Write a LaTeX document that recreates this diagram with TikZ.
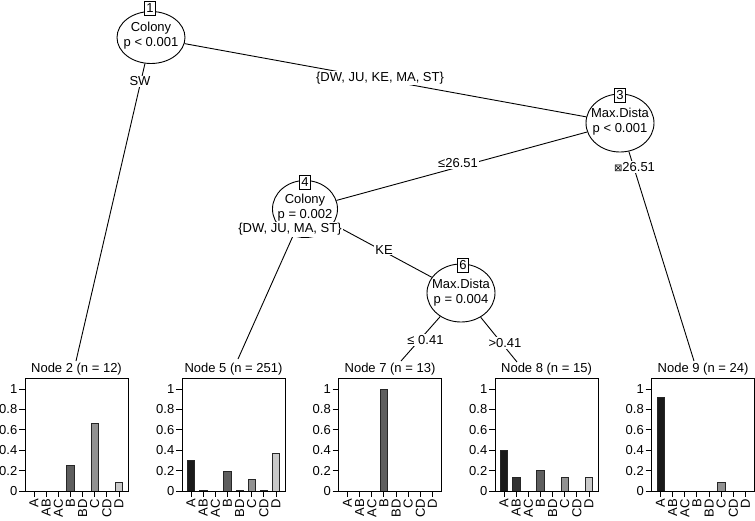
\documentclass[tikz,border=0pt]{standalone}
\usepackage{fontspec}
\setmainfont{Liberation Sans}
\newfontfamily\djv{DejaVu Sans}
\usetikzlibrary{shapes.geometric}
\definecolor{cA}{HTML}{1A1A1A}
\definecolor{cAB}{HTML}{333333}
\definecolor{cAC}{HTML}{4A4A4A}
\definecolor{cB}{HTML}{5E5E5E}
\definecolor{cBD}{HTML}{777777}
\definecolor{cC}{HTML}{929292}
\definecolor{cCD}{HTML}{ADADAD}
\definecolor{cD}{HTML}{CACACA}
\newcommand{\mypanel}[4]{%
\begin{scope}[shift={(#2,0)}]
 \node[ttl] (#1) at (51.5,369) {#3};
 \foreach \v [count=\k] in {0,0.2,0.4,0.6,0.8,1}{
   \draw[frame] (-6,{491-102*\v}) -- (0,{491-102*\v});
   \node[anchor=east, inner sep=0pt] (#1y\k) at (-7.5,{491-102*\v}) {\v};
 }
 \foreach \lab [count=\i from 0] in {A,AB,AC,B,BD,C,CD,D}{
   \draw[frame] ({9+12.14*\i},491) -- ({9+12.14*\i},497);
   \node[rotate=90, anchor=east, inner sep=0pt] (#1x\i) at ({9+12.14*\i},499) {\lab};
 }
 \foreach \i/\v/\c in {#4}{
   \filldraw[barst, fill=\c] ({9+12.14*\i-3.7},491) rectangle ({9+12.14*\i+3.7},{491-102*\v});
 }
 \draw[frame] (0,378) rectangle (103,491);
\end{scope}}
\begin{document}
\begin{tikzpicture}[x=1pt,y=-1pt,
  every node/.style={font=\fontsize{13}{15}\selectfont},
  innernode/.style={ellipse, draw, line width=0.9pt, fill=white, inner sep=0pt},
  innertext/.style={align=center, inner sep=0pt},
  numbox/.style={draw, fill=white, line width=0.8pt, inner sep=0pt, minimum width=11, minimum height=14},
  edgeline/.style={line width=0.9pt},
  lbl/.style={fill=white, inner sep=1pt},
  ttl/.style={inner sep=0pt},
  frame/.style={line width=0.9pt},
  barst/.style={draw=black!85, line width=0.5pt}]
\useasboundingbox (0,0) rectangle (755,520);

% inner nodes
\node[innernode, minimum width=68, minimum height=52] (n1) at (151,37.5) {};
\node[innernode, minimum width=68, minimum height=58] (n3) at (620,123) {};
\node[innernode, minimum width=65, minimum height=57] (n4) at (305,209) {};
\node[innernode, minimum width=68, minimum height=58] (n6) at (461,293) {};

% texts of inner nodes
\node[innertext] (n1t) at (151,35.5) {Colony\\p < 0.001};
\node[innertext] (n3t) at (620,122) {Max.Dista\\p < 0.001};
\node[innertext] (n4t) at (305,207.5) {Colony\\p = 0.002};
\node[innertext] (n6t) at (461,293) {Max.Dista\\p = 0.004};

% edge end points above the terminal panels
\coordinate (e2) at (76,361);
\coordinate (e5) at (238,359);
\coordinate (e7) at (401,361);
\coordinate (e8) at (517,362);
\coordinate (e9) at (694,361);

% edges
\draw[edgeline] (n1) -- (e2);
\draw[edgeline] (n1) -- (n3);
\draw[edgeline] (n3) -- (n4);
\draw[edgeline] (n3) -- (e9);
\draw[edgeline] (n4) -- (e5);
\draw[edgeline] (n4) -- (n6);
\draw[edgeline] (n6) -- (e7);
\draw[edgeline] (n6) -- (e8);

% edge labels
\node[lbl] (l12) at (140,81.5) {SW};
\node[lbl] (l13) at (380,78) {\{DW, JU, KE, MA, ST\}};
\node[lbl] (l34) at (458,163) {≤26.51};
\node[lbl] (l39) at (634.5,167) {{\djv\fontsize{10}{12}\selectfont ⊠}26.51};
\node[lbl] (l45) at (290,229.5) {\{DW, JU, MA, ST\}};
\node[lbl] (l46) at (384,250) {KE};
\node[lbl] (l67) at (425.5,340) {≤ 0.41};
\node[lbl] (l68) at (505,343) {>0.41};

% number boxes
\node[numbox] (b1) at (150,8) {1};
\node[numbox] (b3) at (620,95.5) {3};
\node[numbox] (b4) at (305,182.5) {4};
\node[numbox] (b6) at (463,265) {6};

% terminal panels
\mypanel{t2}{25}{Node 2 (n = 12)}{3/0.25/cB, 5/0.6667/cC, 7/0.0833/cD}
\mypanel{t5}{182}{Node 5 (n = 251)}{0/0.2988/cA, 1/0.008/cAB, 3/0.1912/cB, 4/0.008/cBD, 5/0.1195/cC, 6/0.008/cCD, 7/0.3665/cD}
\mypanel{t7}{338.5}{Node 7 (n = 13)}{3/1/cB}
\mypanel{t8}{495}{Node 8 (n = 15)}{0/0.4/cA, 1/0.1333/cAB, 3/0.2/cB, 5/0.1333/cC, 7/0.1333/cD}
\mypanel{t9}{651.5}{Node 9 (n = 24)}{0/0.9167/cA, 5/0.0833/cC}
\end{tikzpicture}
\end{document}
